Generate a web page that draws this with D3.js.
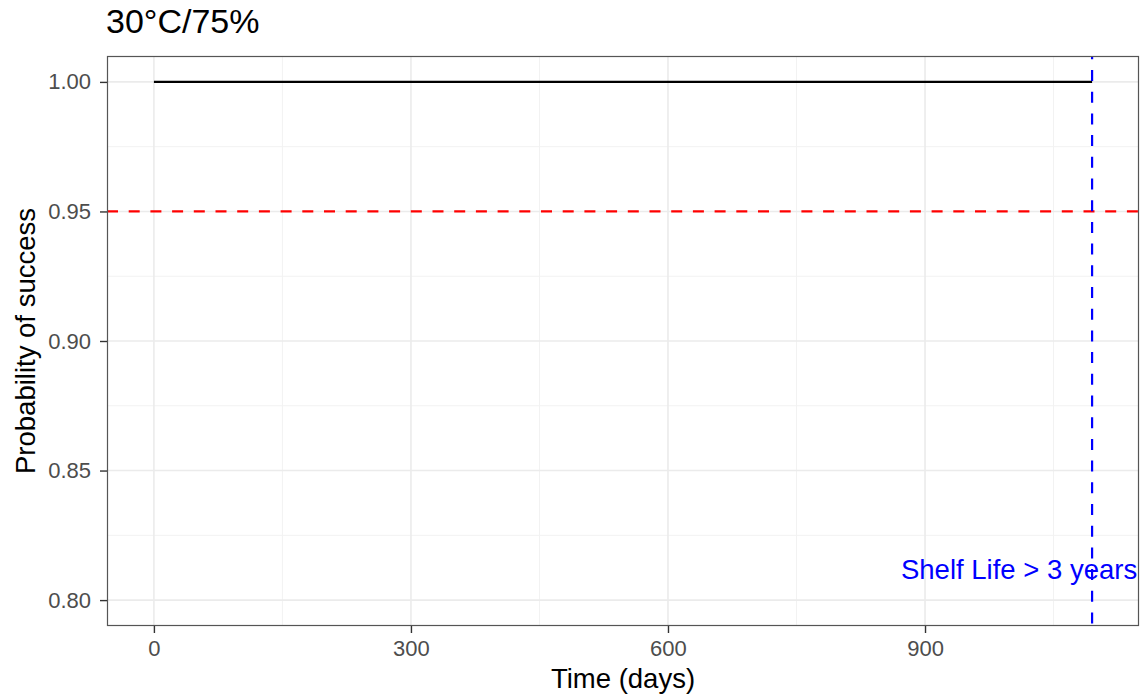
<!DOCTYPE html>
<html>
<head>
<meta charset="utf-8">
<script src="https://cdn.jsdelivr.net/npm/d3@7"></script>
<style>
  body { margin: 0; background: #fff; }
  text { font-family: "Liberation Sans", Arial, sans-serif; }
</style>
</head>
<body>
<svg id="chart" width="1141" height="698"></svg>
<script>
// data
const timeDays = [0, 1095];
const probSuccess = [1.0, 1.0];
const xTicks = [0, 300, 600, 900];
const xMinor = [150, 450, 750, 1050];
const yTicks = [0.80, 0.85, 0.90, 0.95, 1.00];
const yMinor = [0.825, 0.875, 0.925, 0.975];
const limitProb = 0.95;
const shelfLifeDays = 1095;
const title = "30°C/75%";
const shelfLabel = "Shelf Life > 3 years";

const margin = {top: 56, right: 2, bottom: 72, left: 107};
const W = 1141, H = 698;
const svg = d3.select("#chart");

const x = d3.scaleLinear().domain([-54.75, 1149.75]).range([margin.left, W - margin.right]);
const y = d3.scaleLinear().domain([0.79, 1.01]).range([H - margin.bottom, margin.top]);

const g = svg.append("g");

// minor grid
g.selectAll(".xminor").data(xMinor).join("line")
  .attr("x1", d => x(d)).attr("x2", d => x(d))
  .attr("y1", y.range()[0]).attr("y2", y.range()[1])
  .attr("stroke", "#f2f2f2").attr("stroke-width", 1);
g.selectAll(".yminor").data(yMinor).join("line")
  .attr("y1", d => y(d)).attr("y2", d => y(d))
  .attr("x1", x.range()[0]).attr("x2", x.range()[1])
  .attr("stroke", "#f2f2f2").attr("stroke-width", 1);
// major grid
g.selectAll(".xmajor").data(xTicks).join("line")
  .attr("x1", d => x(d)).attr("x2", d => x(d))
  .attr("y1", y.range()[0]).attr("y2", y.range()[1])
  .attr("stroke", "#ebebeb").attr("stroke-width", 1.6);
g.selectAll(".ymajor").data(yTicks).join("line")
  .attr("y1", d => y(d)).attr("y2", d => y(d))
  .attr("x1", x.range()[0]).attr("x2", x.range()[1])
  .attr("stroke", "#ebebeb").attr("stroke-width", 1.6);

// probability line
const pts = timeDays.map((t, i) => [t, probSuccess[i]]);
g.append("path").datum(pts)
  .attr("fill", "none").attr("stroke", "#000").attr("stroke-width", 2.2)
  .attr("d", d3.line().x(d => x(d[0])).y(d => y(d[1])));

// reference lines
g.append("line")
  .attr("x1", x.range()[0]).attr("x2", x.range()[1])
  .attr("y1", y(limitProb)).attr("y2", y(limitProb))
  .attr("stroke", "#ff0000").attr("stroke-width", 2.2).attr("stroke-dasharray", "11,10.7");
g.append("line")
  .attr("x1", x(shelfLifeDays)).attr("x2", x(shelfLifeDays))
  .attr("y1", y.range()[1]).attr("y2", y.range()[0])
  .attr("stroke", "#0000ff").attr("stroke-width", 2.2).attr("stroke-dasharray", "11,10.7")
  .attr("stroke-dashoffset", 7.7);

g.append("text")
  .attr("x", x(shelfLifeDays) - 73).attr("y", y(0.8) - 21)
  .attr("text-anchor", "middle").attr("fill", "#0000ff")
  .attr("font-size", 27.5).text(shelfLabel);

// panel border
g.append("rect")
  .attr("x", margin.left + 0.5).attr("y", margin.top + 0.5)
  .attr("width", W - margin.left - margin.right - 1)
  .attr("height", H - margin.top - margin.bottom - 1)
  .attr("fill", "none").attr("stroke", "#555").attr("stroke-width", 1.2);

// axes
const xAxis = svg.append("g")
  .attr("transform", `translate(0,${H - margin.bottom})`)
  .call(d3.axisBottom(x).tickValues(xTicks).tickSize(7).tickPadding(7).tickFormat(d3.format("d")));
const yAxis = svg.append("g")
  .attr("transform", `translate(${margin.left},0)`)
  .call(d3.axisLeft(y).tickValues(yTicks).tickSize(7).tickPadding(9).tickFormat(d3.format(".2f")));
[xAxis, yAxis].forEach(a => {
  a.select(".domain").remove();
  a.selectAll(".tick line").attr("stroke", "#333").attr("stroke-width", 1.4);
  a.selectAll(".tick text").attr("fill", "#4d4d4d").attr("font-size", 22)
    .attr("font-family", "Liberation Sans, Arial, sans-serif");
});

// titles
svg.append("text").attr("x", (x.range()[0] + x.range()[1]) / 2).attr("y", 688)
  .attr("text-anchor", "middle").attr("font-size", 27.5).attr("fill", "#000").text("Time (days)");
svg.append("text")
  .attr("transform", `translate(35,${(y.range()[0] + y.range()[1]) / 2}) rotate(-90)`)
  .attr("text-anchor", "middle").attr("font-size", 27.5).attr("fill", "#000").text("Probability of success");
svg.append("text").attr("x", 106).attr("y", 33)
  .attr("font-size", 34).attr("fill", "#000").text(title);
</script>
</body>
</html>
